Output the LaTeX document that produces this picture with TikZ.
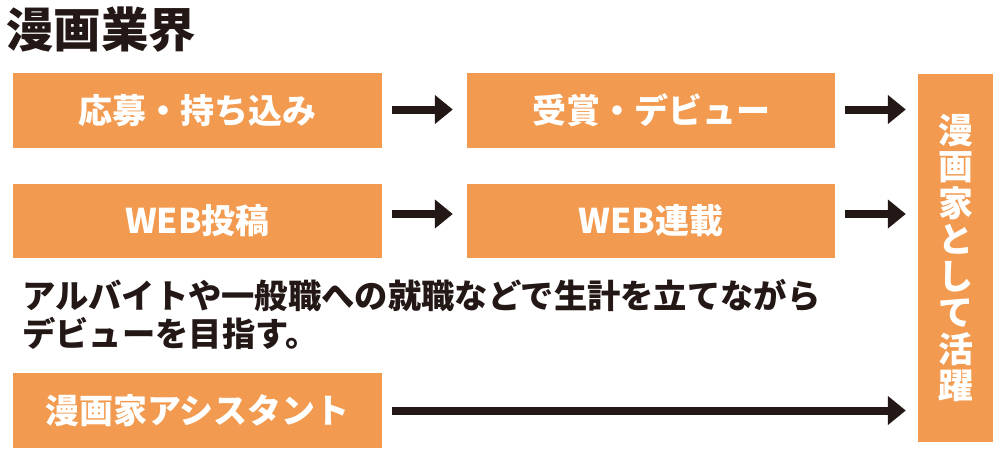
\documentclass[tikz,border=0pt]{standalone}
\usepackage{fontspec}
\newfontfamily\jp{Noto Sans CJK JP}
\usetikzlibrary{arrows.meta}
\definecolor{boxorange}{HTML}{F29B50}
\definecolor{inkblack}{HTML}{231815}
\begin{document}
\begin{tikzpicture}[x=1pt,y=-1pt,
  box/.style={fill=boxorange, draw=none, minimum width=369pt, minimum height=75pt,
    inner sep=0pt, text=white, font=\jp\bfseries\fontsize{34pt}{36pt}\selectfont},
  flow/.style={draw=inkblack, line width=8pt, -{Triangle[length=18pt,width=28pt]}},
  plain/.style={inner sep=0pt, text=inkblack}]
\useasboundingbox (0,0) rectangle (1000,453);
\node[plain, anchor=west, font=\jp\bfseries\fontsize{47.5pt}{50pt}\selectfont] (title) at (6,30) {漫画業界};
\node[box] (apply) at (197.5,110.5) {応募・持ち込み};
\node[box, minimum width=368pt] (award) at (651,110.5) {受賞・デビュー};
\node[box, minimum height=74pt] (webpost) at (197.5,221) {WEB投稿};
\node[box, minimum width=368pt, minimum height=74pt] (webser) at (651,221) {WEB連載};
\node[box] (assist) at (197.5,410.5) {漫画家アシスタント};
\node[box, minimum width=75pt, minimum height=368pt, align=center,
  font=\jp\bfseries\fontsize{35pt}{36.5pt}\selectfont] (pro) at (955.5,258)
  {漫\\画\\家\\と\\し\\て\\活\\躍};
\node[plain, anchor=north west, align=left, font=\jp\bfseries\fontsize{33.3pt}{38pt}\selectfont] (note) at (22,279)
  {アルバイトや一般職への就職などで生計を立てながら\\デビューを目指す。};
\draw[flow] ([xshift=10pt,yshift=1pt]apply.east) -- ([xshift=-14pt,yshift=1pt]award.west);
\draw[flow] ([xshift=10pt,yshift=7pt]webpost.east) -- ([xshift=-14pt,yshift=7pt]webser.west);
\draw[flow] ([xshift=10pt,yshift=1pt]award.east) -- ([xshift=-12pt,yshift=1pt]award.east -| pro.west);
\draw[flow] ([xshift=10pt,yshift=7pt]webser.east) -- ([xshift=-12pt,yshift=7pt]webser.east -| pro.west);
\draw[flow] ([xshift=10pt]assist.east) -- ([xshift=-12pt]assist.east -| pro.west);
\end{tikzpicture}
\end{document}
